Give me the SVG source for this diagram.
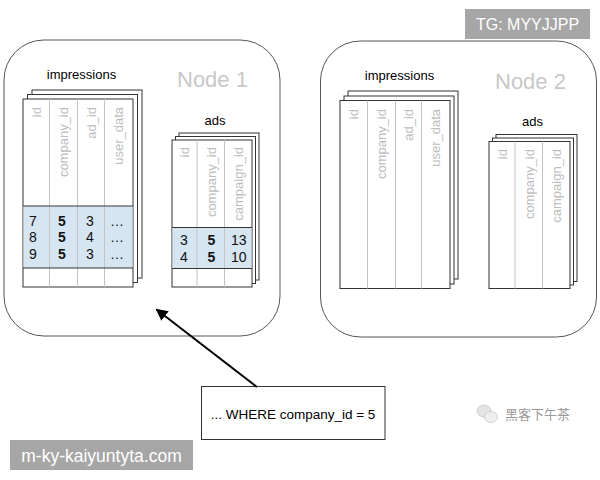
<svg xmlns="http://www.w3.org/2000/svg" width="600" height="480" viewBox="0 0 600 480">
<defs>
<style>
.node{fill:#fff;stroke:#555;stroke-width:1}
.sheet{fill:#fff;stroke:#333;stroke-width:1}
.hl{fill:#d5e5f2;stroke:none}
.col{stroke:#c4c4c4;stroke-width:1}
.row{stroke:#333;stroke-width:1}
.hdr{font-family:"Liberation Sans",Arial,sans-serif;font-size:13px;fill:#bdbdbd;text-anchor:end}
.ttl{font-family:"Liberation Sans",Arial,sans-serif;font-size:13px;fill:#000;text-anchor:middle}
.nlab{font-family:"Liberation Sans",Arial,sans-serif;font-size:22px;fill:#c8c8c8}
.val{font-family:"Liberation Sans",Arial,sans-serif;font-size:14px;fill:#111}
.b{font-weight:bold}
.conn{stroke:#000;stroke-width:2;fill:none}
.wm{font-family:"Liberation Sans",Arial,sans-serif;fill:#fff;text-anchor:middle}
</style>
<marker id="ah" viewBox="0 0 10 10" refX="9" refY="5" markerWidth="6" markerHeight="6" orient="auto" markerUnits="strokeWidth">
<path d="M0,0 L10,5 L0,10 z" fill="#000"/>
</marker>
</defs>
<rect width="600" height="480" fill="#fff"/>

<g id="node1">
<rect class="node" x="4" y="40" width="276" height="296" rx="40" ry="40"/>
<text class="nlab" x="177" y="87">Node 1</text>
<g id="node1-impressions">
<text class="ttl" x="81.5" y="78.5">impressions</text>
<rect class="sheet" x="32" y="90" width="110" height="188"/>
<rect class="sheet" x="27.5" y="94.5" width="110" height="188"/>
<rect class="sheet" x="23" y="99" width="110" height="188"/>
<rect class="hl" x="23.5" y="206" width="109" height="62"/>
<line class="col" x1="49.5" y1="99" x2="49.5" y2="287"/>
<line class="col" x1="77.5" y1="99" x2="77.5" y2="287"/>
<line class="col" x1="104.5" y1="99" x2="104.5" y2="287"/>
<line class="row" x1="23" y1="206" x2="133" y2="206"/>
<line class="row" x1="23" y1="268" x2="133" y2="268"/>
<text class="hdr" transform="translate(41,107) rotate(-90)">id</text>
<text class="hdr" transform="translate(68,107) rotate(-90)">company_id</text>
<text class="hdr" transform="translate(95.5,107) rotate(-90)">ad_id</text>
<text class="hdr" transform="translate(123,107) rotate(-90)">user_data</text>
<text class="val" x="29" y="225.7">7</text>
<text class="val" x="29" y="242.3">8</text>
<text class="val" x="29" y="259">9</text>
<text class="val b" x="58" y="225.7">5</text>
<text class="val b" x="58" y="242.3">5</text>
<text class="val b" x="58" y="259">5</text>
<text class="val" x="86" y="225.7">3</text>
<text class="val" x="86" y="242.3">4</text>
<text class="val" x="86" y="259">3</text>
<text class="val" x="110" y="225.7">…</text>
<text class="val" x="110" y="242.3">…</text>
<text class="val" x="110" y="259">…</text>
</g>
<g id="node1-ads">
<text class="ttl" x="215" y="124.5">ads</text>
<rect class="sheet" x="179" y="133" width="80" height="147"/>
<rect class="sheet" x="175.5" y="136.5" width="80" height="147"/>
<rect class="sheet" x="172" y="140" width="80" height="147"/>
<rect class="hl" x="172.5" y="227.5" width="79" height="41"/>
<line class="col" x1="197" y1="140" x2="197" y2="287"/>
<line class="col" x1="224.5" y1="140" x2="224.5" y2="287"/>
<line class="row" x1="172" y1="227.5" x2="252" y2="227.5"/>
<line class="row" x1="172" y1="268.5" x2="252" y2="268.5"/>
<text class="hdr" transform="translate(189,147) rotate(-90)">id</text>
<text class="hdr" transform="translate(215.5,147) rotate(-90)">company_id</text>
<text class="hdr" transform="translate(243,147) rotate(-90)">campaign_id</text>
<text class="val" x="180" y="245">3</text>
<text class="val" x="180" y="262.3">4</text>
<text class="val b" x="207.5" y="245">5</text>
<text class="val b" x="207.5" y="262.3">5</text>
<text class="val" x="231" y="245">13</text>
<text class="val" x="231" y="262.3">10</text>
</g>
</g>

<g id="node2">
<rect class="node" x="320.5" y="41" width="276" height="296" rx="40" ry="40"/>
<text class="nlab" x="495" y="89">Node 2</text>
<g id="node2-impressions">
<text class="ttl" x="399.5" y="80">impressions</text>
<rect class="sheet" x="348" y="91" width="110" height="188"/>
<rect class="sheet" x="344" y="96" width="110" height="188"/>
<rect class="sheet" x="340" y="100.5" width="110" height="188"/>
<line class="col" x1="367.5" y1="100.5" x2="367.5" y2="288.5"/>
<line class="col" x1="395.5" y1="100.5" x2="395.5" y2="288.5"/>
<line class="col" x1="421.5" y1="100.5" x2="421.5" y2="288.5"/>
<text class="hdr" transform="translate(358,109) rotate(-90)">id</text>
<text class="hdr" transform="translate(386,109) rotate(-90)">company_id</text>
<text class="hdr" transform="translate(413,109) rotate(-90)">ad_id</text>
<text class="hdr" transform="translate(440,109) rotate(-90)">user_data</text>
</g>
<g id="node2-ads">
<text class="ttl" x="532.5" y="126">ads</text>
<rect class="sheet" x="496" y="134.5" width="81" height="147"/>
<rect class="sheet" x="492.5" y="138" width="81" height="147"/>
<rect class="sheet" x="489" y="141.5" width="81" height="147"/>
<line class="col" x1="515" y1="141.5" x2="515" y2="288.5"/>
<line class="col" x1="542.5" y1="141.5" x2="542.5" y2="288.5"/>
<text class="hdr" transform="translate(506.5,149) rotate(-90)">id</text>
<text class="hdr" transform="translate(533.5,149) rotate(-90)">company_id</text>
<text class="hdr" transform="translate(561,149) rotate(-90)">campaign_id</text>
</g>
</g>

<g id="query">
<rect x="201.5" y="386.5" width="183.5" height="53" fill="#fff" stroke="#333" stroke-width="1"/>
<text x="293" y="418.5" font-family="Liberation Sans, Arial, sans-serif" font-size="13.5" fill="#000" text-anchor="middle">... WHERE company_id = 5</text>
</g>

<g id="connectors">
<line class="conn" x1="257" y1="387" x2="156.5" y2="309.5" marker-end="url(#ah)"/>
</g>

<g id="watermarks">
<rect x="465" y="9" width="125" height="30" fill="#a6a6a6"/>
<text class="wm" x="527.5" y="30" font-size="16">TG: MYYJJPP</text>
<rect x="10" y="440" width="183" height="30" fill="#a6a6a6"/>
<text class="wm" x="101.5" y="461.5" font-size="17.5">m-ky-kaiyuntyta.com</text>
<ellipse cx="484" cy="411" rx="7" ry="6" fill="#e4e4e4" stroke="#c8c8c8" stroke-width="0.8"/>
<ellipse cx="491" cy="417" rx="6.5" ry="5.5" fill="#eeeeee" stroke="#c8c8c8" stroke-width="0.8"/>
<text x="505" y="419" font-family="Noto Sans CJK SC, sans-serif" font-size="13" fill="#9a9a9a">黑客下午茶</text>
</g>
</svg>
